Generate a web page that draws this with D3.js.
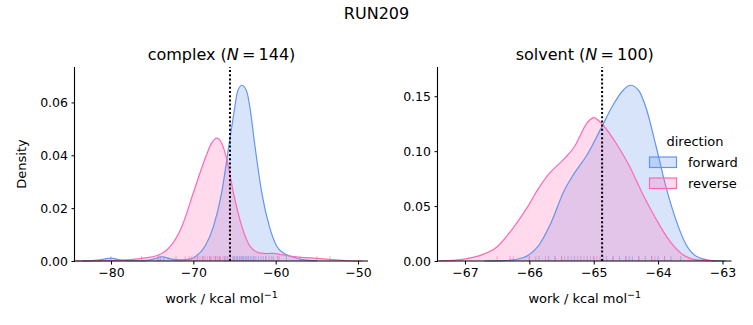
<!DOCTYPE html>
<html><head><meta charset="utf-8">
<script src="https://cdn.jsdelivr.net/npm/d3@7"></script>
<style>body{margin:0;background:#fff}svg{display:block}text{font-family:"DejaVu Sans",sans-serif;fill:#000}</style>
</head><body>
<svg id="chart" width="753" height="325"></svg>
<script>
const suptitle = "RUN209";
const directions = ["forward", "reverse"];
const colors = {forward: "#6495ed", reverse: "#ff69b4"};

// complex panel: KDE curves [work, density]
const complexForward = [[-83.5,0],[-82,0.0002],[-80.8,0.0007],[-80,0.0011],[-79.2,0.0006],[-77.8,0.0001],[-76.2,0.0001],[-74.8,0.0008],[-73.8,0.0016],[-72.8,0.0008],[-71.5,0.0004],[-70.3,0.0008],[-69.8,0.0016],[-68.6,0.0055],[-67.56,0.013],[-66.55,0.026],[-65.62,0.045],[-65.0,0.0575],[-64.65,0.064],[-64.1,0.0665],[-63.5,0.064],[-63.1,0.0575],[-62.58,0.045],[-61.7,0.026],[-60.76,0.013],[-59.9,0.0058],[-59.06,0.003],[-57.8,0.0014],[-56.6,0.0004],[-55,0]];
const complexReverse = [[-84.3,0],[-80,0.0001],[-78.2,0.0004],[-76.3,0.001],[-74.3,0.0022],[-72.8,0.0055],[-71.4,0.013],[-70.0,0.0258],[-68.6,0.0385],[-67.8,0.0445],[-67.15,0.0465],[-66.6,0.0448],[-65.94,0.0385],[-65.13,0.0258],[-64.1,0.013],[-63.1,0.0055],[-62.0,0.0031],[-61.0,0.0028],[-60.3,0.0029],[-59.1,0.0023],[-57.0,0.0014],[-55.0,0.001],[-53.4,0.0006],[-51.4,0.0001],[-49.5,0]];
// solvent panel
const solventForward = [[-66.7,0],[-66.4,0.0003],[-66.1,0.003],[-65.87,0.013],[-65.67,0.034],[-65.46,0.064],[-65.3,0.080],[-65.1,0.097],[-64.91,0.118],[-64.7,0.142],[-64.55,0.155],[-64.43,0.160],[-64.3,0.155],[-64.19,0.140],[-64.03,0.104],[-63.88,0.068],[-63.72,0.037],[-63.57,0.0155],[-63.4,0.004],[-63.2,0.0006],[-62.95,0]];
const solventReverse = [[-67.4,0.0001],[-67.04,0.0015],[-66.8,0.0045],[-66.5,0.013],[-66.24,0.031],[-66.03,0.049],[-65.88,0.064],[-65.7,0.079],[-65.46,0.093],[-65.3,0.104],[-65.1,0.126],[-65.0,0.1306],[-64.86,0.124],[-64.65,0.107],[-64.45,0.087],[-64.24,0.061],[-64.03,0.038],[-63.83,0.019],[-63.62,0.006],[-63.41,0.0012],[-63.1,0]];

// rug samples (work values)
const complexForwardRug = [-80.0,-74.3,-74.0,-73.6,-69.5,-68.8,-68.0,-67.3,-66.8,-66.2,-65.9,-65.5,-65.2,-65.0,-64.8,-64.6,-64.4,-64.2,-64.0,-63.9,-63.7,-63.5,-63.3,-63.1,-62.9,-62.7,-62.4,-62.1,-61.8,-61.5,-61.2,-60.8,-60.3,-59.6,-58.7];
const complexReverseRug = [-76.3,-74.2,-72.1,-71.0,-70.5,-70.2,-69.8,-69.5,-69.2,-68.9,-68.6,-68.3,-68.0,-67.8,-67.5,-67.3,-67.1,-66.9,-66.7,-66.4,-66.1,-65.8,-65.5,-65.1,-64.7,-64.2,-63.5,-62.6,-61.2,-60.5,-59.8,-57.0,-55.0,-53.4];
const solventForwardRug = [-66.0,-65.85,-65.7,-65.6,-65.5,-65.4,-65.3,-65.2,-65.1,-65.0,-64.9,-64.8,-64.7,-64.6,-64.5,-64.45,-64.4,-64.3,-64.2,-64.1,-64.0,-63.9,-63.8,-63.65];
const solventReverseRug = [-66.5,-66.3,-66.25,-66.0,-65.9,-65.75,-65.6,-65.5,-65.45,-65.35,-65.25,-65.15,-65.05,-65.0,-64.95,-64.85,-64.7,-64.5,-64.3,-64.1,-64.05,-63.9];

const meanLines = [-65.55, -64.87];
const panelNames = ["complex", "solvent"];
const panelN = [144, 100];
const complexXTicks = [-80, -70, -60, -50];
const complexYTicks = [0, 0.02, 0.04, 0.06];
const solventXTicks = [-67, -66, -65, -64, -63];
const solventYTicks = [0, 0.05, 0.10, 0.15];
const xLabel = "work / kcal mol";
const yLabel = "Density";
const legendTitle = "direction";

const svg = d3.select("#chart");
svg.append("text").attr("x", 376.5).attr("y", 19).attr("text-anchor","middle").attr("font-size",16).text(suptitle);

const panels = [
  {name: panelNames[0], n: panelN[0], left: 75, right: 368, xd: [-84.37,-48.79], yd:[0,0.0734], xt: complexXTicks, yt: complexYTicks,
   curves: {forward: complexForward, reverse: complexReverse}, rugs: {forward: complexForwardRug, reverse: complexReverseRug}, mean: meanLines[0], ylab: true},
  {name: panelNames[1], n: panelN[1], left: 438, right: 731.5, xd: [-67.419,-62.86], yd:[0,0.1766], xt: solventXTicks, yt: solventYTicks,
   curves: {forward: solventForward, reverse: solventReverse}, rugs: {forward: solventForwardRug, reverse: solventReverseRug}, mean: meanLines[1], ylab: false}
];
const plotTop = 67, plotBottom = 261;

panels.forEach(p => {
  const x = d3.scaleLinear().domain(p.xd).range([p.left, p.right]);
  const y = d3.scaleLinear().domain(p.yd).range([plotBottom, plotTop]);
  const g = svg.append("g");
  const area = d3.area().x(d => x(d[0])).y0(y(0)).y1(d => y(d[1])).curve(d3.curveMonotoneX);
  const line = d3.line().x(d => x(d[0])).y(d => y(d[1])).curve(d3.curveMonotoneX);
  directions.forEach(dir => {
    g.append("path").datum(p.curves[dir]).attr("d", area).attr("fill", colors[dir]).attr("fill-opacity", 0.25);
  });
  directions.forEach(dir => {
    g.append("path").datum(p.curves[dir]).attr("d", line).attr("fill","none").attr("stroke", colors[dir]).attr("stroke-width", 1.2);
  });
  directions.forEach(dir => {
    g.selectAll(null).data(p.rugs[dir]).enter().append("line")
      .attr("x1", d => x(d)).attr("x2", d => x(d)).attr("y1", plotBottom).attr("y2", plotBottom - 4.9)
      .attr("stroke", colors[dir]).attr("stroke-opacity", 0.55).attr("stroke-width", 1);
  });
  g.append("line").attr("x1", x(p.mean)).attr("x2", x(p.mean)).attr("y1", plotBottom).attr("y2", plotTop)
    .attr("stroke","#000").attr("stroke-width",2).attr("stroke-dasharray","2,2.2");

  const xa = g.append("g").attr("transform", `translate(0,${plotBottom})`)
    .call(d3.axisBottom(x).tickValues(p.xt).tickSize(3.5).tickPadding(3.5).tickFormat(d => d3.format("d")(d).replace("-", "\u2212")));
  const ya = g.append("g").attr("transform", `translate(${p.left},0)`)
    .call(d3.axisLeft(y).tickValues(p.yt).tickSize(3.5).tickPadding(3.5).tickFormat(d3.format(".2f")));
  [xa, ya].forEach(a => {
    a.selectAll("text").attr("font-size", 12.5).attr("font-family", "DejaVu Sans");
    a.select(".domain").attr("stroke-width", 1.1);
    a.selectAll(".tick line").attr("stroke-width", 1);
  });
  ya.select(".domain").attr("d", `M-0.5,${plotBottom}V${plotTop}`);
  xa.select(".domain").attr("d", `M${p.left},0H${p.right}`);

  const t = g.append("text").attr("x", (p.left + p.right)/2).attr("y", 60).attr("text-anchor","middle").attr("font-size", 16);
  t.append("tspan").text(p.name + " (");
  t.append("tspan").attr("font-style","italic").text("N");
  t.append("tspan").text("\u2009=\u2009" + p.n + ")");

  const xl = g.append("text").attr("x", (p.left + p.right)/2).attr("y", 303).attr("text-anchor","middle").attr("font-size", 13);
  xl.append("tspan").text(xLabel);
  xl.append("tspan").attr("dy", -5).attr("font-size", 9.5).text("\u22121");

  if (p.ylab) {
    g.append("text").attr("transform", "translate(26,164) rotate(-90)").attr("text-anchor","middle").attr("font-size", 13).text(yLabel);
  }
});

// legend
const lg = svg.append("g");
lg.append("text").attr("x", 695).attr("y", 146).attr("text-anchor","middle").attr("font-size", 13).text(legendTitle);
directions.forEach((dir, i) => {
  const yy = 157 + i * 21;
  lg.append("rect").attr("x", 649.5).attr("y", yy).attr("width", 27).attr("height", 10.5)
    .attr("fill", colors[dir]).attr("fill-opacity", 0.25).attr("stroke", colors[dir]).attr("stroke-width", 1.2);
  lg.append("text").attr("x", 688).attr("y", yy + 9.5).attr("font-size", 13).text(dir);
});
</script>
</body></html>
